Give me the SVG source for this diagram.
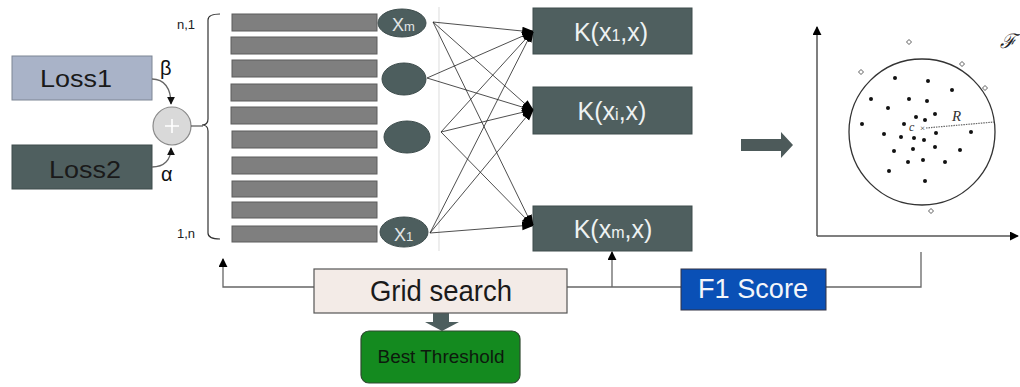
<svg xmlns="http://www.w3.org/2000/svg" width="1020" height="387" viewBox="0 0 1020 387">
<defs>
<style>
.t{font-family:"Liberation Sans",Arial,sans-serif}
.bar{fill:#7f7f7f;stroke:#5c5c5c;stroke-width:1}
.ell{fill:#4d5e5e;stroke:#3d4c4c;stroke-width:1}
.kbox{fill:#4f5f5f;stroke:#3f4d4d;stroke-width:1}
.ktxt{font-family:"Liberation Sans",Arial,sans-serif;font-size:25px;fill:#eef2f2;text-anchor:middle}
.net{stroke:#222;stroke-width:0.8;fill:none}
.conn{stroke:#666;stroke-width:1.3;fill:none}
.dot{fill:#111}
.dia{fill:#fff;stroke:#333;stroke-width:0.8}
</style>
<marker id="ah" viewBox="0 0 10 10" refX="9" refY="5" markerWidth="9" markerHeight="9" markerUnits="userSpaceOnUse" orient="auto">
<path d="M0,0 L10,5 L0,10 z" fill="#000"/>
</marker>
<marker id="ahs" viewBox="0 0 10 10" refX="9" refY="5" markerWidth="8" markerHeight="8" markerUnits="userSpaceOnUse" orient="auto">
<path d="M0,0 L10,5 L0,10 z" fill="#111"/>
</marker>
<marker id="ahn" viewBox="0 0 10 10" refX="9" refY="5" markerWidth="11" markerHeight="11" markerUnits="userSpaceOnUse" orient="auto">
<path d="M0,1 L10,4 L10,6 L0,9 z" fill="#000"/>
</marker>
</defs>
<rect width="1020" height="387" fill="#fff"/>

<g id="loss1">
<rect x="12" y="56" width="140" height="44" fill="#a9b3c8" stroke="#7d8594" stroke-width="1"/>
<text class="t" x="76" y="87" font-size="24" fill="#1a1a1a" text-anchor="middle" textLength="72" lengthAdjust="spacingAndGlyphs">Loss1</text>
</g>
<g id="loss2">
<rect x="12" y="145" width="140" height="44" fill="#4f5f5f" stroke="#3f4d4d" stroke-width="1"/>
<text class="t" x="85" y="178" font-size="24" fill="#1a1a1a" text-anchor="middle" textLength="72" lengthAdjust="spacingAndGlyphs">Loss2</text>
</g>
<g id="sum">
<circle cx="172" cy="126" r="19" fill="#d9d9d9" stroke="#8a8a8a" stroke-width="1.2"/>
<path d="M165,126 H179 M172,119 V133" stroke="#fff" stroke-width="1.6"/>
</g>
<g id="weights">
<text class="t" x="160" y="75" font-size="20" fill="#111">β</text>
<text class="t" x="161" y="181" font-size="20" fill="#111">α</text>
</g>

<g id="brace">
<path d="M220,14 Q208,14 208,20 L208,119 Q208,125 202,125 Q208,125 208,131 L208,233 Q208,239 220,239" fill="none" stroke="#333" stroke-width="1.2"/>
<text class="t" x="177" y="29" font-size="13" fill="#222">n,1</text>
<text class="t" x="177" y="238" font-size="13" fill="#222">1,n</text>
</g>

<g id="bars">
<rect class="bar" x="232" y="14" width="145" height="17"/>
<rect class="bar" x="231" y="37" width="146" height="17"/>
<rect class="bar" x="232" y="60" width="145" height="17"/>
<rect class="bar" x="231" y="84" width="146" height="17"/>
<rect class="bar" x="231" y="107" width="146" height="17"/>
<rect class="bar" x="232" y="131" width="145" height="17"/>
<rect class="bar" x="232" y="157" width="145" height="17"/>
<rect class="bar" x="232" y="181" width="145" height="16"/>
<rect class="bar" x="232" y="202" width="145" height="16"/>
<rect class="bar" x="232" y="226" width="145" height="16"/>
</g>

<g id="xm">
<ellipse class="ell" cx="402" cy="23" rx="24" ry="14"/>
<text class="t" x="392" y="31" font-size="18" fill="#e2e6e6">X<tspan font-size="13">m</tspan></text>
</g>
<g id="node2"><ellipse class="ell" cx="404" cy="79" rx="22" ry="16"/></g>
<g id="node3"><ellipse class="ell" cx="407" cy="137" rx="23" ry="16"/></g>
<g id="x1">
<ellipse class="ell" cx="404" cy="232" rx="24" ry="15"/>
<text class="t" x="394" y="241" font-size="18" fill="#e2e6e6">X<tspan font-size="13">1</tspan></text>
</g>

<line x1="439" y1="7" x2="439" y2="251" stroke="#e2e2e2" stroke-width="1.2"/>

<g id="k1">
<rect class="kbox" x="533" y="8" width="159" height="46"/>
<text class="ktxt" x="611" y="41">K(x<tspan font-size="16">1</tspan>,x)</text>
</g>
<g id="ki">
<rect class="kbox" x="533" y="87" width="159" height="47"/>
<text class="ktxt" x="612" y="120">K(x<tspan font-size="16">i</tspan>,x)</text>
</g>
<g id="km">
<rect class="kbox" x="533" y="206" width="159" height="45"/>
<text class="ktxt" x="613" y="238">K(x<tspan font-size="16">m</tspan>,x)</text>
</g>

<g id="connectors">
<path class="conn" d="M152,79 C164,79 171,88 171,104" marker-end="url(#ahs)" stroke="#444"/>
<path class="conn" d="M152,167 C164,167 171,160 171,148" marker-end="url(#ahs)" stroke="#444"/>
<line x1="191" y1="126" x2="203" y2="126" stroke="#555" stroke-width="1.2"/>

<line class="net" x1="433" y1="22" x2="532" y2="32" marker-end="url(#ahn)"/>
<line class="net" x1="433" y1="22" x2="532" y2="110" marker-end="url(#ahn)"/>
<line class="net" x1="433" y1="22" x2="532" y2="225" marker-end="url(#ahn)"/>
<line class="net" x1="427" y1="78" x2="532" y2="32" marker-end="url(#ahn)"/>
<line class="net" x1="427" y1="78" x2="532" y2="110" marker-end="url(#ahn)"/>
<line class="net" x1="441" y1="132" x2="532" y2="32" marker-end="url(#ahn)"/>
<line class="net" x1="441" y1="132" x2="532" y2="110" marker-end="url(#ahn)"/>
<line class="net" x1="441" y1="132" x2="532" y2="225" marker-end="url(#ahn)"/>
<line class="net" x1="430" y1="233" x2="532" y2="32" marker-end="url(#ahn)"/>
<line class="net" x1="430" y1="233" x2="532" y2="110" marker-end="url(#ahn)"/>
<line class="net" x1="430" y1="233" x2="532" y2="225" marker-end="url(#ahn)"/>

<path class="conn" d="M314,287 H223 V259" marker-end="url(#ah)"/>
<line class="conn" x1="567" y1="287" x2="681" y2="287"/>
<path class="conn" d="M612,287 V252" marker-end="url(#ah)"/>
<path class="conn" d="M826,287 H921 V252"/>
<polygon points="433,313 449,313 449,322 459,322 442,331 425,322 433,322" fill="#4d5e5e"/>
<polygon points="741,139 781,139 781,132 793,145 781,158 781,151 741,151" fill="#4d5a5a"/>
</g>

<g id="grid-search">
<rect x="314" y="269" width="253" height="44" fill="#f3ebe7" stroke="#555" stroke-width="1.2"/>
<text class="t" x="441" y="301" font-size="29" fill="#1a1a1a" text-anchor="middle" textLength="142" lengthAdjust="spacingAndGlyphs">Grid search</text>
</g>
<g id="f1-score">
<rect x="681" y="269" width="145" height="41" fill="#0a50b6" stroke="#334" stroke-width="1"/>
<text class="t" x="753" y="298" font-size="27" fill="#f4f6fa" text-anchor="middle" textLength="110" lengthAdjust="spacingAndGlyphs">F1 Score</text>
</g>
<g id="best-threshold">
<rect x="361" y="331" width="159" height="52" rx="8" fill="#148a1f" stroke="#2f4a30" stroke-width="1.2"/>
<text class="t" x="441" y="363" font-size="18" fill="#0d1a0d" text-anchor="middle" textLength="127" lengthAdjust="spacingAndGlyphs">Best Threshold</text>
</g>

<g id="feature-space">
<path d="M817,236 V27" stroke="#555" stroke-width="1.5" fill="none" marker-end="url(#ah)"/>
<path d="M817,236 H1018" stroke="#555" stroke-width="1.5" fill="none" marker-end="url(#ah)"/>
<circle cx="922" cy="132" r="73" fill="none" stroke="#333" stroke-width="1.3"/>
<text x="1000" y="48" font-family="DejaVu Serif,serif" font-size="20" font-style="italic" fill="#222">ℱ</text>
<line x1="926" y1="128" x2="994" y2="122" stroke="#666" stroke-width="1.2" stroke-dasharray="1.5,1"/>
<text x="909" y="131" font-family="Liberation Serif,serif" font-size="12" font-style="italic" fill="#333">c</text>
<text x="920" y="131" font-family="Liberation Serif,serif" font-size="9" fill="#333">×</text>
<text x="952" y="121" font-family="Liberation Serif,serif" font-size="15" font-style="italic" fill="#333">R</text>
<g>
<path class="dia" d="M909,39.5 L911.5,42 L909,44.5 L906.5,42 z"/>
<path class="dia" d="M861,69.5 L863.5,72 L861,74.5 L858.5,72 z"/>
<path class="dia" d="M962,61.5 L964.5,64 L962,66.5 L959.5,64 z"/>
<path class="dia" d="M985,85.5 L987.5,88 L985,90.5 L982.5,88 z"/>
<path class="dia" d="M931,208.5 L933.5,211 L931,213.5 L928.5,211 z"/>
</g>
<g class="dot">
<circle cx="895" cy="78" r="2"/><circle cx="928" cy="81" r="2"/><circle cx="952" cy="90" r="2"/>
<circle cx="871" cy="99" r="2"/><circle cx="909" cy="99" r="2"/><circle cx="927" cy="101" r="2"/>
<circle cx="888" cy="108" r="2"/><circle cx="935" cy="114" r="2"/><circle cx="916" cy="117" r="2"/>
<circle cx="925" cy="120" r="2"/><circle cx="862" cy="124" r="2"/><circle cx="904" cy="124" r="2"/>
<circle cx="884" cy="134" r="2"/><circle cx="936" cy="133" r="2"/><circle cx="971" cy="132" r="2"/>
<circle cx="901" cy="137" r="2"/><circle cx="914" cy="138" r="2"/><circle cx="924" cy="140" r="2"/>
<circle cx="935" cy="147" r="2"/><circle cx="913" cy="149" r="2"/><circle cx="894" cy="151" r="2"/>
<circle cx="960" cy="150" r="2"/><circle cx="923" cy="160" r="2"/><circle cx="908" cy="162" r="2"/>
<circle cx="945" cy="162" r="2"/><circle cx="889" cy="171" r="2"/><circle cx="925" cy="181" r="2"/>
</g>
</g>
</svg>
